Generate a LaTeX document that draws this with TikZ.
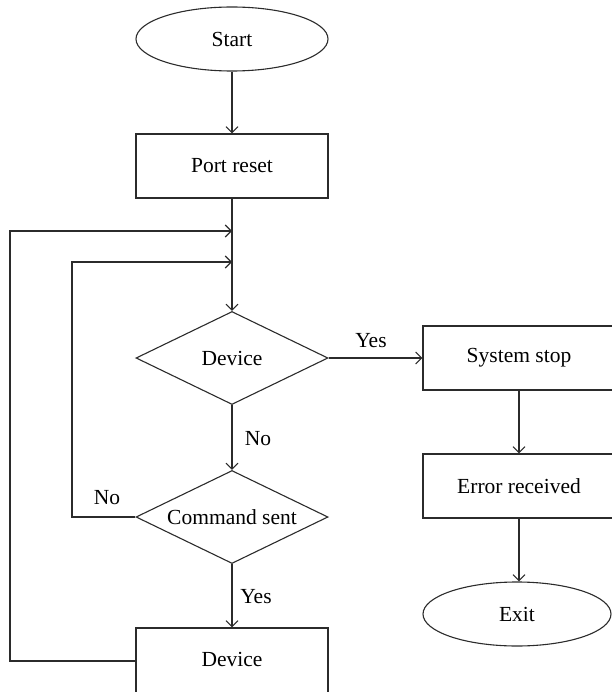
\documentclass[tikz,border=0pt]{standalone}
\usepackage{fontspec}
\setmainfont{Liberation Serif}
\usetikzlibrary{shapes.geometric,arrows.meta}
\definecolor{ln}{HTML}{2B2B2B}
\tikzset{
  base/.style={draw=ln, line width=1.1pt, inner sep=0pt, font=\fontsize{21.5}{25}\selectfont, text=black},
  term/.style={base, ellipse, minimum width=192pt, minimum height=64pt},
  proc/.style={base, rectangle, minimum width=192pt, minimum height=64pt},
  dec/.style={base, diamond, aspect=2, minimum width=192pt, minimum height=93pt},
  conn/.style={draw=ln, line width=1.1pt, -{Straight Barb[length=6pt,width=12pt,line width=1.1pt]}},
  lbl/.style={font=\fontsize{21.5}{25}\selectfont, inner sep=0pt}
}
\begin{document}
\begin{tikzpicture}[x=1pt,y=-1pt]
\useasboundingbox (0,0) rectangle (611,692);
\node[term] (start) at (232,39) {Start};
\node[proc] (port) at (232,166) {Port reset};
\node[dec] (dev) at (232,358) {Device};
\node[dec] (cmd) at (232,517) {Command sent};
\node[proc, minimum height=66pt] (devbox) at (232,661) {\raisebox{3pt}{Device}};
\node[proc] (sys) at (519,358) {System stop};
\node[proc] (err) at (519,486) {Error received};
\node[term, minimum width=188pt] (exit) at (517,614) {Exit};
\coordinate (j1) at (232,231);
\coordinate (j2) at (232,262);
\coordinate (l1) at (10,661);
\coordinate (l2) at (72,517);
\draw[conn] (start) -- (port);
\draw[conn] (port) -- (dev);
\draw[conn] (dev) -- (cmd);
\draw[conn] (cmd) -- (devbox);
\draw[conn] (dev) -- (sys);
\draw[conn] (sys) -- (err);
\draw[conn] (err.south) -- (err.south |- exit.north);
\draw[conn] (devbox.west) -- (l1) |- (j1);
\draw[conn] (cmd.west) -- (l2) |- (j2);
\node[lbl] (yes1) at (371,341) {Yes};
\node[lbl] (no1) at (258,439) {No};
\node[lbl] (no2) at (107,498) {No};
\node[lbl] (yes2) at (256,597) {Yes};
\end{tikzpicture}
\end{document}
